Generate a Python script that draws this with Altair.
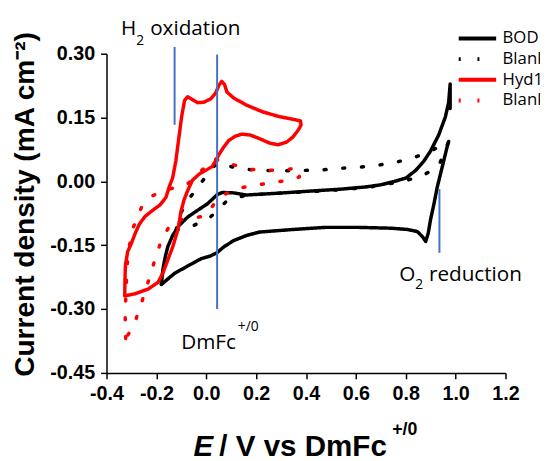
import altair as alt
import pandas as pd

# ---------------- data ----------------
# BOD (black solid): forward (upper) branch, left vertex -> right vertex
bod_fwd_x = [-0.180, -0.174, -0.164, -0.154, -0.134, -0.108, -0.075, -0.035, 0.004, 0.044,
             0.064, 0.110, 0.160, 0.281, 0.412, 0.544, 0.640, 0.700, 0.755, 0.801,
             0.840, 0.873, 0.899, 0.932, 0.959, 0.972, 0.978, 0.978]
bod_fwd_y = [-0.242, -0.207, -0.176, -0.153, -0.126, -0.103, -0.084, -0.068, -0.053, -0.031,
             -0.026, -0.027, -0.032, -0.028, -0.023, -0.018, -0.013, -0.008, 0.000, 0.008,
             0.026, 0.048, 0.071, 0.109, 0.152, 0.186, 0.229, 0.171]
# BOD reverse (lower) branch, right -> left vertex
bod_rev_x = [0.972, 0.965, 0.952, 0.939, 0.926, 0.913, 0.899, 0.890, 0.880, 0.867,
             0.847, 0.807, 0.742, 0.610, 0.478, 0.347, 0.214, 0.162, 0.110, 0.070,
             0.044, 0.018, -0.022, -0.075, -0.127, -0.180]
bod_rev_y = [0.094, 0.079, 0.048, 0.017, -0.014, -0.053, -0.091, -0.122, -0.141, -0.130,
             -0.118, -0.113, -0.110, -0.108, -0.108, -0.113, -0.119, -0.127, -0.139, -0.154,
             -0.167, -0.175, -0.182, -0.199, -0.216, -0.242]

# Blank for BOD (black dots)
bod_blank_x = [-0.121, -0.108, -0.068, -0.015, 0.031, 0.065, 0.103, 0.182, 0.268, 0.347,
               0.465, 0.544, 0.623, 0.689, 0.761, 0.834, 0.899, 0.972,
               0.932, 0.867, 0.794, 0.720, 0.650, 0.550, 0.450, 0.350, 0.250, 0.160,
               0.110, 0.077, 0.018, -0.048, -0.090, -0.121]
bod_blank_y = [-0.114, -0.080, -0.040, 0.001, 0.036, 0.044, 0.034, 0.027, 0.025, 0.025,
               0.027, 0.031, 0.034, 0.038, 0.045, 0.056, 0.071, 0.094,
               0.036, 0.013, 0.001, -0.007, -0.014, -0.019, -0.023, -0.026, -0.029, -0.033,
               -0.040, -0.049, -0.083, -0.103, -0.110, -0.114]

# Hyd1 (red solid)
hyd_x = [-0.327, -0.326, -0.324, -0.315, -0.300, -0.285, -0.268, -0.245, -0.215, -0.185,
         -0.162, -0.148, -0.135, -0.122, -0.110, -0.098, -0.087, -0.075, -0.058, -0.035,
         -0.010, 0.018, 0.037, 0.051, 0.062, 0.073, 0.083, 0.110, 0.162, 0.228,
         0.294, 0.347, 0.378, 0.380, 0.367, 0.347, 0.321, 0.288, 0.254, 0.215,
         0.176, 0.143, 0.116, 0.090, 0.068, 0.051, 0.038, 0.024, -0.002, -0.029,
         -0.055, -0.075, -0.090, -0.101, -0.114, -0.134, -0.154, -0.173, -0.193, -0.233,
         -0.285, -0.327]
hyd_y = [-0.269, -0.230, -0.195, -0.165, -0.145, -0.122, -0.100, -0.082, -0.068, -0.055,
         -0.038, -0.012, 0.008, 0.048, 0.102, 0.155, 0.190, 0.199, 0.193, 0.185,
         0.186, 0.194, 0.207, 0.226, 0.235, 0.228, 0.210, 0.196, 0.179, 0.163,
         0.152, 0.146, 0.142, 0.132, 0.119, 0.104, 0.092, 0.086, 0.090, 0.100,
         0.109, 0.111, 0.106, 0.096, 0.079, 0.063, 0.049, 0.035, 0.026, 0.017,
         0.003, -0.022, -0.045, -0.070, -0.114, -0.153, -0.184, -0.214, -0.237, -0.253,
         -0.264, -0.269]

# Blank for Hyd1 (red dots)
hyd_blank_x = [-0.323, -0.325, -0.322, -0.318, -0.312, -0.292, -0.259, -0.213, -0.147, -0.075,
               -0.020, 0.031, 0.103, 0.183, 0.254, 0.321, 0.373,
               0.373, 0.320, 0.254, 0.182, 0.116, 0.050, -0.002, -0.060, -0.134,
               -0.180, -0.206, -0.233, -0.259, -0.285, -0.305, -0.323]
hyd_blank_y = [-0.369, -0.320, -0.260, -0.207, -0.161, -0.107, -0.060, -0.033, -0.018, -0.006,
               0.025, 0.053, 0.040, 0.028, 0.026, 0.028, 0.032,
               0.010, 0.002, -0.004, -0.010, -0.018, -0.038, -0.080, -0.088, -0.091,
               -0.138, -0.184, -0.236, -0.284, -0.329, -0.352, -0.369]

series_names = ["BOD", "BOD blank", "Hyd1", "Hyd1 blank"]
series_colors = ["#000000", "#000000", "#ff0000", "#ff0000"]
series_dashes = [[1, 0], [2, 17], [1, 0], [2, 17]]

x_ticks = [-0.4, -0.3, -0.2, -0.1, 0.0, 0.1, 0.2, 0.3, 0.4, 0.5, 0.6, 0.7, 0.8, 0.9, 1.0, 1.1, 1.2]
y_ticks = [-0.45, -0.375, -0.30, -0.225, -0.15, -0.075, 0.0, 0.075, 0.15, 0.225, 0.30]

# annotation marker lines (potential, top, bottom)
marker_x = [-0.127, 0.0435, 0.935]
marker_top = [0.316, 0.298, -0.018]
marker_bottom = [0.133, -0.300, -0.168]

# ---------------- build table ----------------
rows = []
def add(series, seg, xs, ys):
    for i, (a, b) in enumerate(zip(xs, ys)):
        rows.append({"series": series, "seg": seg, "idx": i, "E": a, "j": b})

add("BOD", "bod1", bod_fwd_x, bod_fwd_y)
add("BOD", "bod2", bod_rev_x, bod_rev_y)
add("BOD blank", "bb", bod_blank_x, bod_blank_y)
add("Hyd1", "hy", hyd_x, hyd_y)
add("Hyd1 blank", "hb", hyd_blank_x, hyd_blank_y)
df = pd.DataFrame(rows)

markers = pd.DataFrame({"E": marker_x, "top": marker_top, "bottom": marker_bottom})

MINUS = "\u2212"
x_major = "abs(datum.value * 5 - round(datum.value * 5)) < 0.01"
y_major = "abs(datum.value / 0.15 - round(datum.value / 0.15)) < 0.01"

x_axis = alt.Axis(
    values=x_ticks, title=None, grid=False,
    labelExpr=f"{x_major} ? replace(format(datum.value, '.1f'), '{MINUS}', '-') : ''",
    tickSize={"condition": {"test": x_major, "value": 6}, "value": 3.5},
    labelFont="Liberation Sans", labelFontSize=20, labelFontWeight="bold", labelColor="black",
    domainColor="black", domainWidth=1.5, tickColor="black", tickWidth=1.5,
    labelPadding=5, labelFlush=False, labelOverlap=False,
)
y_axis = alt.Axis(
    values=y_ticks, title=None, grid=False,
    labelExpr=f"{y_major} ? replace(format(datum.value, '.2f'), '{MINUS}', '-') : ''",
    tickSize={"condition": {"test": y_major, "value": 6}, "value": 3.5},
    labelFont="Liberation Sans", labelFontSize=20, labelFontWeight="bold", labelColor="black",
    domainColor="black", domainWidth=1.5, tickColor="black", tickWidth=1.5,
    labelPadding=6, labelFlush=False, labelOverlap=False,
)

legend = alt.Legend(
    orient="none", legendX=365, legendY=-27, title=None,
    symbolType="M-2,0H2", symbolSize=361, symbolStrokeWidth=4,
    labelFont="Open Sans", labelFontSize=17, labelColor="black",
    rowPadding=1, labelOffset=14, padding=0,
    labelExpr="datum.label == 'BOD' || datum.label == 'Hyd1' ? datum.label : 'Blank'",
)

lines = alt.Chart(df).mark_line(strokeWidth=3.5, strokeCap="round", strokeJoin="round").encode(
    x=alt.X("E:Q", scale=alt.Scale(domain=[-0.4, 1.2], nice=False, zero=False), axis=x_axis),
    y=alt.Y("j:Q", scale=alt.Scale(domain=[-0.45, 0.30], nice=False, zero=False), axis=y_axis),
    color=alt.Color("series:N", scale=alt.Scale(domain=series_names, range=series_colors), legend=legend),
    strokeDash=alt.StrokeDash("series:N", scale=alt.Scale(domain=series_names, range=series_dashes), legend=legend),
    detail="seg:N",
    order="idx:Q",
)

rules = alt.Chart(markers).mark_rule(color="#4472C4", strokeWidth=2).encode(
    x="E:Q", y="top:Q", y2="bottom:Q"
)

def txt(s, x, y, size, font="Open Sans", weight="normal", style="normal", angle=0, align="left"):
    return alt.Chart(alt.Data(values=[{"t": s}])).mark_text(
        font=font, fontSize=size, fontWeight=weight, fontStyle=style, angle=angle,
        align=align, baseline="alphabetic", color="black",
    ).encode(x=alt.value(x), y=alt.value(y), text="t:N")

texts = [
    txt("H", 14.6, -19.3, 21),
    txt("2", 30.3, -9.3, 14),
    txt("oxidation", 44.3, -19.3, 21),
    txt("DmFc", 75.8, 299.7, 21),
    txt("+/0", 133.3, 281.7, 14),
    txt("O", 297.1, 230.7, 21),
    txt("2", 313.3, 239, 14),
    txt("reduction", 327.3, 230.7, 21),
    txt("Current density (mA cm\u207b\u00b2)", -73.2, 153, 28.5, font="Liberation Sans",
        weight="bold", angle=270, align="center"),
    txt("E", 88.3, 408, 30, font="Liberation Sans", weight="bold", style="italic"),
    txt("/ V vs DmFc", 114.5, 408, 30, font="Liberation Sans", weight="bold"),
    txt("+/0", 290, 387, 18, font="Liberation Sans", weight="bold"),
]

chart = alt.layer(lines, rules, *texts).properties(
    width=405, height=324,
    autosize=alt.AutoSizeParams(type="none"),
    padding={"left": 100, "top": 43, "right": 35, "bottom": 86},
    background="white",
).configure_view(stroke=None)

chart.save("out.html", embed_options={"renderer": "svg", "actions": False})
